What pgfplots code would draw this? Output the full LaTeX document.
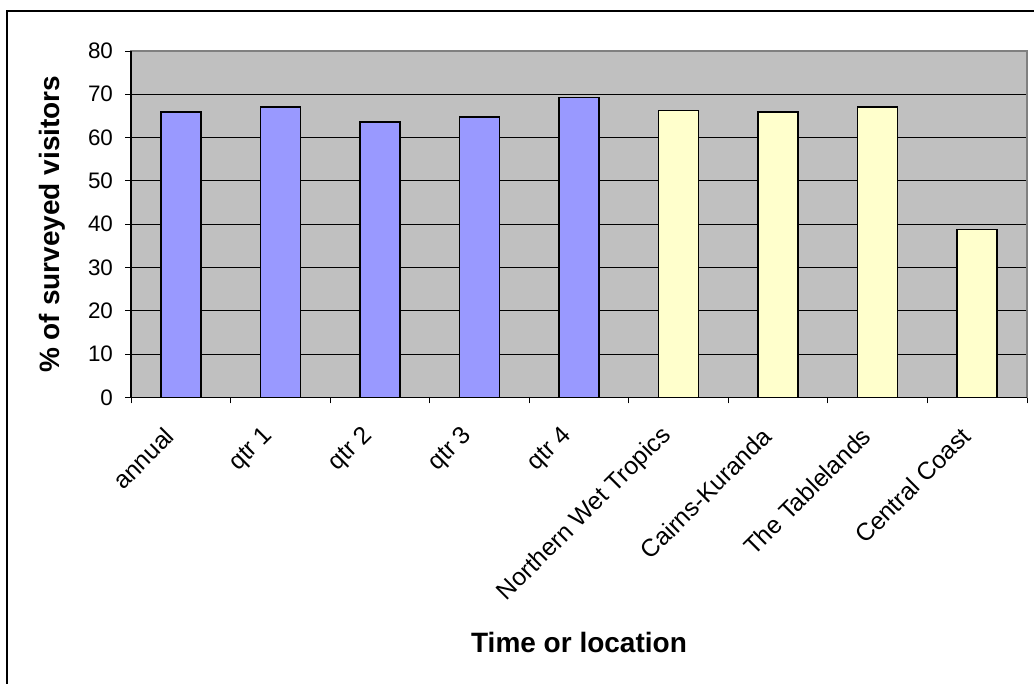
\documentclass[border=0pt]{standalone}
\usepackage{pgfplots}
\pgfplotsset{compat=1.18}
\usepackage{fontspec}
\setmainfont{Liberation Sans}
\definecolor{barblue}{HTML}{9999FF}
\definecolor{baryellow}{HTML}{FFFFCC}
\definecolor{plotbg}{HTML}{C0C0C0}
\definecolor{frame}{HTML}{808080}
\begin{document}
\begin{tikzpicture}
\useasboundingbox (0,0) rectangle (775.5pt,513pt);
\draw[line width=1.1pt] (5.25pt,-2pt) -- (5.25pt,504.75pt) -- (778pt,504.75pt);
\begin{axis}[
  at={(98.25pt,214.9pt)}, anchor=south west,
  scale only axis, width=672pt, height=259.9pt,
  xmin=-0.5, xmax=8.5, ymin=0, ymax=80,
  axis background/.style={fill=plotbg},
  axis line style={frame, line width=1pt},
  ytick={0,10,...,70}, extra y ticks={80}, extra y tick style={grid=none},
  ymajorgrids, grid style={black, line width=0.6pt},
  xtick={0,...,8},
  xticklabels={annual,qtr 1,qtr 2,qtr 3,qtr 4,Northern Wet Tropics,Cairns-Kuranda,The Tablelands,Central Coast},
  minor xtick={-0.5,0.5,1.5,2.5,3.5,4.5,5.5,6.5,7.5,8.5},
  major x tick style={draw=none},
  tick style={black, line width=0.6pt},
  tick align=outside, major tick length=4.5pt, minor tick length=4.5pt,
  xtick pos=bottom, ytick pos=left,
  /pgf/number format/assume math mode=true,
  yticklabel style={font=\fontsize{16.8}{19}\selectfont, xshift=-5.5pt},
  xticklabel style={font=\fontsize{18.5}{21}\selectfont, rotate=45, anchor=east, inner sep=0pt, xshift=-21pt, yshift=-9.2pt},
  ylabel={\textbf{\% of surveyed visitors}},
  xlabel={\textbf{Time or location}},
  label style={font=\fontsize{21}{24}\selectfont},
  ylabel style={at={(axis description cs:-0.088,0.5)}, anchor=center, rotate=0},
  xlabel style={at={(axis description cs:0.5,-0.708)}, anchor=center},
  clip=false,
]
\addplot[ybar, bar shift=0pt, bar width=30pt, fill=barblue, draw=black, line width=1.1pt]
  coordinates {(0,65.9) (1,67.1) (2,63.6) (3,64.8) (4,69.2)};
\addplot[ybar, bar shift=0pt, bar width=30pt, fill=baryellow, draw=black, line width=1.1pt]
  coordinates {(5,66.2) (6,65.9) (7,67.1) (8,38.8)};
\draw[black, line width=1pt] (rel axis cs:0,1) -- (rel axis cs:0,0) -- (rel axis cs:1,0);
\end{axis}
\end{tikzpicture}
\end{document}
